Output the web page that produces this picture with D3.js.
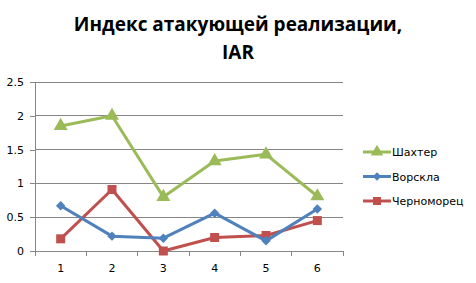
<!DOCTYPE html>
<html lang="ru">
<head>
<meta charset="utf-8">
<script src="https://d3js.org/d3.v7.min.js"></script>
<style>
  body { margin: 0; background: #fff; }
  text { font-family: "DejaVu Sans", Verdana, sans-serif; }
</style>
</head>
<body>
<script>
var categories = ["1", "2", "3", "4", "5", "6"];
var shakhtar = [1.85, 2.0, 0.8, 1.33, 1.43, 0.81];
var vorskla = [0.67, 0.22, 0.19, 0.56, 0.15, 0.62];
var chernomorets = [0.18, 0.91, 0.0, 0.2, 0.23, 0.45];
var yTicks = [0, 0.5, 1, 1.5, 2, 2.5];
var seriesNames = ["Шахтер", "Ворскла", "Черноморец"];

var w = 476, h = 283;
var plotL = 35, plotR = 343, plotT = 82, plotB = 251;

var svg = d3.select("body").append("svg")
  .attr("width", w).attr("height", h);

var x = d3.scaleBand().domain(categories).range([plotL, plotR]);
var y = d3.scaleLinear().domain([0, 2.5]).range([plotB, plotT]);

// title
svg.append("text").attr("x", 238).attr("y", 31)
  .attr("text-anchor", "middle")
  .style("font-family", "'Open Sans', sans-serif")
  .style("font-weight", "bold").style("font-size", "19px")
  .text("Индекс атакующей реализации,");
svg.append("text").attr("x", 238).attr("y", 59)
  .attr("text-anchor", "middle")
  .style("font-family", "'Open Sans', sans-serif")
  .style("font-weight", "bold").style("font-size", "19px")
  .text("IAR");

// gridlines
svg.selectAll(".grid").data(yTicks.slice(1)).enter().append("line")
  .attr("x1", plotL).attr("x2", plotR)
  .attr("y1", d => y(d)).attr("y2", d => y(d))
  .attr("stroke", "#868686").attr("stroke-width", 1)
  .attr("shape-rendering", "crispEdges");

// y axis
var yAxis = svg.append("g").attr("transform", "translate(" + plotL + ",0)")
  .call(d3.axisLeft(y).tickValues(yTicks).tickSize(5).tickPadding(6)
    .tickFormat(d => String(d)));
yAxis.selectAll("line, path").attr("stroke", "#868686").attr("shape-rendering", "crispEdges");
yAxis.select("path").attr("d", "M0," + plotT + "V" + plotB);
yAxis.selectAll("text").style("font-size", "11px").attr("fill", "#000");

// x axis
var xAxis = svg.append("g").attr("transform", "translate(0," + plotB + ")")
  .call(d3.axisBottom(x).tickSize(0).tickPadding(13));
xAxis.select("path").attr("d", "M" + plotL + ",0H" + plotR)
  .attr("stroke", "#868686").attr("shape-rendering", "crispEdges");
xAxis.selectAll("text").style("font-size", "11px").attr("fill", "#000");
var bounds = categories.map(c => x(c)).concat([plotR]);
xAxis.selectAll(".btick").data(bounds).enter().append("line")
  .attr("x1", d => d).attr("x2", d => d).attr("y1", 0).attr("y2", 5)
  .attr("stroke", "#868686").attr("shape-rendering", "crispEdges");

var cx = d => x(d) + x.bandwidth() / 2;
var series = [
  { name: seriesNames[0], values: shakhtar, color: "#9BBB59", shape: "triangle" },
  { name: seriesNames[1], values: vorskla, color: "#4F81BD", shape: "diamond" },
  { name: seriesNames[2], values: chernomorets, color: "#C0504D", shape: "square" }
];
var symbols = { triangle: d3.symbolTriangle, diamond: d3.symbolSquare, square: d3.symbolSquare };
var sizes = { triangle: 85, diamond: 45, square: 81 };
var rot = { triangle: 0, diamond: 45, square: 0 };

var line = d3.line().x((d, i) => cx(categories[i])).y(d => y(d));

// draw in reverse order so Шахтер on top
series.slice().reverse().forEach(function (s) {
  svg.append("path").datum(s.values)
    .attr("d", line).attr("fill", "none")
    .attr("stroke", s.color).attr("stroke-width", 3)
    .attr("stroke-linejoin", "round");
  svg.selectAll(null).data(s.values).enter().append("path")
    .attr("transform", (d, i) => "translate(" + cx(categories[i]) + "," + y(d) + ") rotate(" + rot[s.shape] + ")")
    .attr("d", d3.symbol().type(symbols[s.shape]).size(sizes[s.shape]))
    .attr("fill", s.color);
});

// legend
var lg = svg.append("g");
series.forEach(function (s, i) {
  var ly = 152 + i * 24.5;
  lg.append("line").attr("x1", 363).attr("x2", 391).attr("y1", ly).attr("y2", ly)
    .attr("stroke", s.color).attr("stroke-width", 3);
  lg.append("path").attr("transform", "translate(377," + ly + ") rotate(" + rot[s.shape] + ")")
    .attr("d", d3.symbol().type(symbols[s.shape]).size(sizes[s.shape] * 0.8))
    .attr("fill", s.color);
  lg.append("text").attr("x", 392).attr("y", ly + 4)
    .style("font-size", "11px").text(s.name);
});
</script>
</body>
</html>
